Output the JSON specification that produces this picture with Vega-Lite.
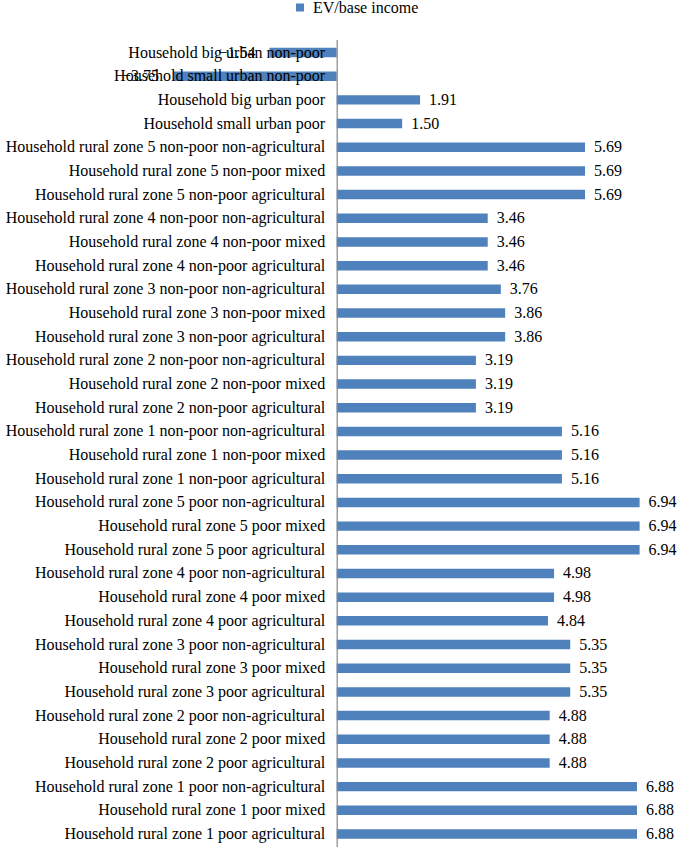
{
  "$schema": "https://vega.github.io/schema/vega-lite/v6.json",
  "autosize": "none",
  "padding": {"left": 0, "top": 39.5, "right": 0, "bottom": 0},
  "width": 685,
  "height": 807.5,
  "background": "white",
  "data": {
    "values": [
      {"group": "Household big urban non-poor", "value": -1.54},
      {"group": "Household small urban non-poor", "value": -3.75},
      {"group": "Household big urban poor", "value": 1.91},
      {"group": "Household small urban poor", "value": 1.50},
      {"group": "Household rural zone 5 non-poor non-agricultural", "value": 5.69},
      {"group": "Household rural zone 5 non-poor mixed", "value": 5.69},
      {"group": "Household rural zone 5 non-poor agricultural", "value": 5.69},
      {"group": "Household rural zone 4 non-poor non-agricultural", "value": 3.46},
      {"group": "Household rural zone 4 non-poor mixed", "value": 3.46},
      {"group": "Household rural zone 4 non-poor agricultural", "value": 3.46},
      {"group": "Household rural zone 3 non-poor non-agricultural", "value": 3.76},
      {"group": "Household rural zone 3 non-poor mixed", "value": 3.86},
      {"group": "Household rural zone 3 non-poor agricultural", "value": 3.86},
      {"group": "Household rural zone 2 non-poor non-agricultural", "value": 3.19},
      {"group": "Household rural zone 2 non-poor mixed", "value": 3.19},
      {"group": "Household rural zone 2 non-poor agricultural", "value": 3.19},
      {"group": "Household rural zone 1 non-poor non-agricultural", "value": 5.16},
      {"group": "Household rural zone 1 non-poor mixed", "value": 5.16},
      {"group": "Household rural zone 1 non-poor agricultural", "value": 5.16},
      {"group": "Household rural zone 5 poor non-agricultural", "value": 6.94},
      {"group": "Household rural zone 5 poor mixed", "value": 6.94},
      {"group": "Household rural zone 5 poor agricultural", "value": 6.94},
      {"group": "Household rural zone 4 poor non-agricultural", "value": 4.98},
      {"group": "Household rural zone 4 poor mixed", "value": 4.98},
      {"group": "Household rural zone 4 poor agricultural", "value": 4.84},
      {"group": "Household rural zone 3 poor non-agricultural", "value": 5.35},
      {"group": "Household rural zone 3 poor mixed", "value": 5.35},
      {"group": "Household rural zone 3 poor agricultural", "value": 5.35},
      {"group": "Household rural zone 2 poor non-agricultural", "value": 4.88},
      {"group": "Household rural zone 2 poor mixed", "value": 4.88},
      {"group": "Household rural zone 2 poor agricultural", "value": 4.88},
      {"group": "Household rural zone 1 poor non-agricultural", "value": 6.88},
      {"group": "Household rural zone 1 poor mixed", "value": 6.88},
      {"group": "Household rural zone 1 poor agricultural", "value": 6.88}
    ]
  },
  "encoding": {
    "y": {
      "field": "group",
      "type": "nominal",
      "sort": null,
      "title": null,
      "scale": {"paddingInner": 0.6, "paddingOuter": 0.35},
      "axis": {
        "offset": -336.7,
        "zindex": 1,
        "ticks": false,
        "grid": false,
        "labelPadding": 12,
        "labelFont": "Liberation Serif",
        "labelFontSize": 16,
        "labelColor": "black",
        "labelLimit": 400,
        "domainColor": "#868686",
        "domainWidth": 1.2
      }
    },
    "x": {
      "field": "value",
      "type": "quantitative",
      "scale": {"domain": [-7.714, 7.98], "nice": false, "zero": false},
      "axis": null
    }
  },
  "layer": [
    {
      "mark": {"type": "bar", "color": "#4F81BD"},
      "encoding": {
        "color": {
          "datum": "EV/base income",
          "scale": {"range": ["#4F81BD"]},
          "legend": {
            "title": null,
            "orient": "none",
            "legendX": 292,
            "legendY": -40,
            "padding": 0,
            "symbolType": "square",
            "symbolSize": 64,
            "symbolStrokeWidth": 0,
            "labelFont": "Liberation Serif",
            "labelFontSize": 16,
            "labelColor": "black",
            "labelOffset": 5
          }
        }
      }
    },
    {
      "transform": [{"filter": "datum.value >= 0"}],
      "mark": {
        "type": "text",
        "align": "left",
        "baseline": "middle",
        "dx": 9,
        "font": "Liberation Serif",
        "fontSize": 16,
        "color": "black"
      },
      "encoding": {"text": {"field": "value", "type": "quantitative", "format": ".2f"}}
    },
    {
      "transform": [{"filter": "datum.value < 0"}],
      "mark": {
        "type": "text",
        "align": "right",
        "baseline": "middle",
        "dx": -14,
        "font": "Liberation Serif",
        "fontSize": 16,
        "color": "black"
      },
      "encoding": {"text": {"field": "value", "type": "quantitative", "format": ".2f"}}
    }
  ],
  "config": {"view": {"stroke": null}}
}
